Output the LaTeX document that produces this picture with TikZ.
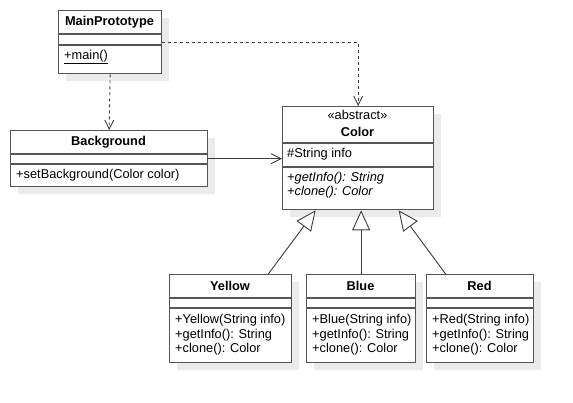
\documentclass[tikz,border=0pt]{standalone}
\usepackage{fontspec}
\setmainfont{Liberation Sans}
\usetikzlibrary{arrows.meta,shadows}

\definecolor{linegray}{HTML}{555555}
\definecolor{wiregray}{HTML}{3C3C3C}
\definecolor{shadowgray}{HTML}{EBEBEB}
\newcommand{\umlfont}{\fontsize{12.8}{15}\selectfont}

\tikzset{
  umlbox/.style={draw=linegray, line width=1.3pt, fill=white, anchor=north west, inner sep=0pt,
    drop shadow={shadow xshift=7pt, shadow yshift=-7pt, fill=shadowgray, opacity=1}},
  divider/.style={draw=linegray, line width=1.3pt},
  classname/.style={font=\umlfont\bfseries, inner sep=0pt},
  stereo/.style={font=\umlfont, inner sep=0pt},
  member/.style={font=\umlfont, anchor=west, inner sep=0pt},
  dep/.style={draw=wiregray, line width=0.9pt, dash pattern=on 3pt off 3pt,
    -{Straight Barb[length=9pt,width=9pt]}},
  assoc/.style={draw=wiregray, line width=0.9pt, -{Straight Barb[length=10pt,width=10pt]}},
  inherit/.style={draw=wiregray, line width=0.9pt,
    -{Triangle[open,length=20pt,width=18pt,fill=white]}}
}

\begin{document}
\begin{tikzpicture}[x=1pt,y=-1pt]
    \useasboundingbox (0,0) rectangle (573,402);

    % MainPrototype
    \node[umlbox, minimum width=103pt, minimum height=63pt] (main) at (58,10) {};
    \node[classname] (mainname) at (109.5,22) {MainPrototype};
    \draw[divider] (58,34) -- (161,34);
    \draw[divider] (58,45) -- (161,45);
    \node[member] (mainop) at (64,57) {\underline{+main()}};

    % Background
    \node[umlbox, minimum width=197pt, minimum height=56pt] (background) at (10,130) {};
    \node[classname] (backgroundname) at (108.5,142) {Background};
    \draw[divider] (10,154) -- (207,154);
    \draw[divider] (10,164) -- (207,164);
    \node[member] (backgroundop) at (16,175) {+setBackground(Color color)};

    % Color
    \node[umlbox, minimum width=151pt, minimum height=103pt] (color) at (282,106) {};
    \node[stereo] (colorstereo) at (357.5,115) {«abstract»};
    \node[classname] (colorname) at (357.5,132) {Color};
    \draw[divider] (282,143) -- (433,143);
    \draw[divider] (282,167) -- (433,167);
    \node[member] (colorattr) at (287,154) {\#String info};
    \node[member] (colorop1) at (287,178) {\itshape +getInfo(): String};
    \node[member] (colorop2) at (287,192) {\itshape +clone(): Color};

    % Yellow
    \node[umlbox, minimum width=122pt, minimum height=88pt] (yellow) at (169,274) {};
    \node[classname] (yellowname) at (230,286) {Yellow};
    \draw[divider] (169,298) -- (291,298);
    \draw[divider] (169,308) -- (291,308);
    \node[member] (yellowop1) at (175,320) {+Yellow(String info)};
    \node[member] (yellowop2) at (175,335) {+getInfo(): String};
    \node[member] (yellowop3) at (175,349) {+clone(): Color};

    % Blue
    \node[umlbox, minimum width=109pt, minimum height=88pt] (blue) at (306,274) {};
    \node[classname] (bluename) at (360.5,286) {Blue};
    \draw[divider] (306,298) -- (415,298);
    \draw[divider] (306,308) -- (415,308);
    \node[member] (blueop1) at (312,320) {+Blue(String info)};
    \node[member] (blueop2) at (312,335) {+getInfo(): String};
    \node[member] (blueop3) at (312,349) {+clone(): Color};

    % Red
    \node[umlbox, minimum width=107pt, minimum height=88pt] (red) at (426,274) {};
    \node[classname] (redname) at (479.5,286) {Red};
    \draw[divider] (426,298) -- (533,298);
    \draw[divider] (426,308) -- (533,308);
    \node[member] (redop1) at (432,320) {+Red(String info)};
    \node[member] (redop2) at (432,335) {+getInfo(): String};
    \node[member] (redop3) at (432,349) {+clone(): Color};

    % relations
    \draw[dep] (main.south) -- (background.north);
    \draw[dep] (main.east) -| (color.north);
    \draw[assoc] (background.east) -- (color.west |- background.east);
    \draw[inherit] ([xshift=-24pt]yellow.north east) -- ([xshift=-42.5pt]color.south);
    \draw[inherit] (blue.north) -- (blue.north |- color.south);
    \draw[inherit] ([xshift=-34.5pt]red.north) -- ([xshift=40.5pt]color.south);
\end{tikzpicture}
\end{document}
